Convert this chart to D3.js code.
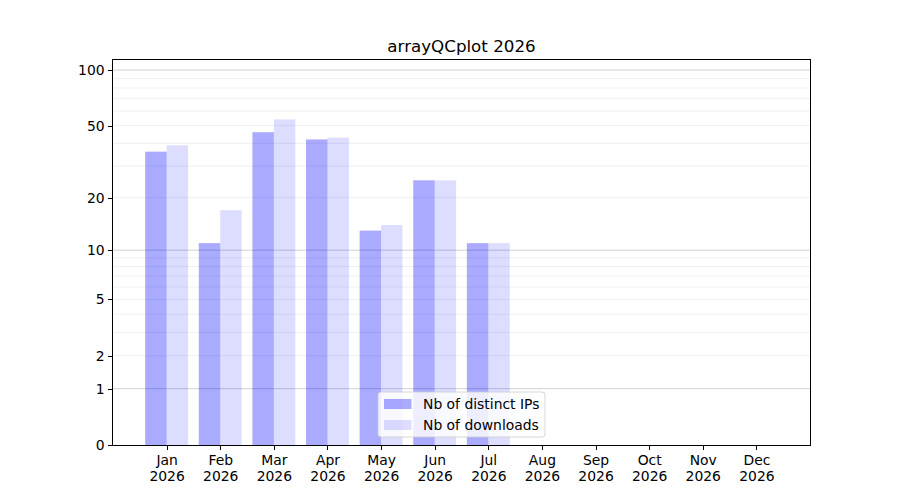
<!DOCTYPE html>
<html>
<head>
<meta charset="utf-8">
<script src="https://cdn.jsdelivr.net/npm/d3@7"></script>
<style>
  body { margin: 0; background: #fff; }
  text { font-family: "DejaVu Sans", sans-serif; }
</style>
</head>
<body>
<script>
let months = ["Jan", "Feb", "Mar", "Apr", "May", "Jun", "Jul", "Aug", "Sep", "Oct", "Nov", "Dec"]
let yearLabel = "2026"
let ips = [36, 11, 46, 42, 13, 25, 11, 0, 0, 0, 0, 0]
let downloads = [39, 17, 54, 43, 14, 25, 11, 0, 0, 0, 0, 0]
let yTicks = [0, 1, 2, 5, 10, 20, 50, 100]
let majorGrid = [1, 10, 100]
let minorGrid = [2, 3, 4, 5, 6, 7, 8, 9, 20, 30, 40, 50, 60, 70, 80, 90]
let seriesNames = ["Nb of distinct IPs", "Nb of downloads"]

let w = 900
let h = 500
let padL = 113, padR = 810, padT = 60, padB = 445
let barW = 0.4

let svg = d3.select("body").append("svg")
  .attr("width", w)
  .attr("height", h)

let xScale = d3.scaleLinear().domain([-1, 12]).range([padL, padR])
let yScale = d3.scaleSymlog().constant(1).domain([0, 113.3]).range([padB, padT])

// grid
svg.append("g").selectAll("line")
  .data(minorGrid)
  .enter()
  .append("line")
  .attr("x1", padL).attr("x2", padR)
  .attr("y1", d => yScale(d)).attr("y2", d => yScale(d))
  .attr("stroke", "#ebebeb")
  .attr("stroke-width", 0.8)

svg.append("g").selectAll("line")
  .data(majorGrid)
  .enter()
  .append("line")
  .attr("x1", padL).attr("x2", padR)
  .attr("y1", d => yScale(d)).attr("y2", d => yScale(d))
  .attr("stroke", "#c4c4c4")
  .attr("stroke-width", 0.8)

// bars
let drawBars = (vals, offset, op) => {
  svg.append("g").selectAll("rect")
    .data(vals)
    .enter()
    .append("rect")
    .attr("x", (d, i) => xScale(i + offset))
    .attr("width", xScale(barW) - xScale(0))
    .attr("y", d => yScale(d))
    .attr("height", d => yScale(0) - yScale(d))
    .attr("fill", "blue")
    .attr("fill-opacity", op)
}
drawBars(ips, -barW, 0.333)
drawBars(downloads, 0, 0.133)

// axes
let xAxis = d3.axisBottom(xScale)
  .tickValues(d3.range(months.length))
  .tickSize(4.9)
  .tickPadding(3)
  .tickFormat("")
let gx = svg.append("g")
  .attr("transform", "translate(0," + padB + ")")
  .call(xAxis)
gx.select(".domain").remove()
gx.selectAll(".tick line").attr("stroke", "black").attr("stroke-width", 1).attr("shape-rendering", "crispEdges")
gx.selectAll(".tick").append("text")
  .attr("fill", "black")
  .attr("font-size", "13.9px")
  .attr("font-family", "DejaVu Sans")
  .attr("text-anchor", "middle")
  .selectAll("tspan")
  .data(i => [months[i], yearLabel])
  .enter()
  .append("tspan")
  .attr("x", 0)
  .attr("y", (d, j) => 20 + j * 16)
  .text(d => d)

let yAxis = d3.axisLeft(yScale)
  .tickValues(yTicks)
  .tickSize(4.9)
  .tickPadding(3.5)
  .tickFormat(d3.format("d"))
let gy = svg.append("g")
  .attr("transform", "translate(" + padL + ",0)")
  .call(yAxis)
gy.select(".domain").remove()
gy.selectAll(".tick line").attr("stroke", "black").attr("stroke-width", 1).attr("shape-rendering", "crispEdges")
gy.selectAll(".tick text")
  .attr("fill", "black")
  .attr("font-size", "13.9px")
  .attr("font-family", "DejaVu Sans")

// frame
svg.append("rect")
  .attr("x", padL - 0.5).attr("y", padT - 0.5)
  .attr("width", padR - padL + 1).attr("height", padB - padT + 1)
  .attr("fill", "none")
  .attr("stroke", "black")
  .attr("stroke-width", 1)
  .attr("shape-rendering", "crispEdges")

// title
svg.append("text")
  .text("arrayQCplot " + yearLabel)
  .attr("x", (padL + padR) / 2)
  .attr("y", 52)
  .attr("text-anchor", "middle")
  .attr("font-size", "16.7px")

// legend
let lg = svg.append("g").attr("transform", "translate(378,392)")
lg.append("rect")
  .attr("width", 167).attr("height", 45)
  .attr("rx", 3)
  .attr("fill", "white")
  .attr("fill-opacity", 0.8)
  .attr("stroke", "#cccccc")
  .attr("stroke-width", 0.8)
seriesNames.forEach((name, i) => {
  lg.append("rect")
    .attr("x", 6).attr("y", 7 + i * 21)
    .attr("width", 27.5).attr("height", 10)
    .attr("fill", "blue")
    .attr("fill-opacity", i === 0 ? 0.333 : 0.133)
  lg.append("text")
    .text(name)
    .attr("x", 45).attr("y", 17 + i * 21)
    .attr("font-size", "13.9px")
    .attr("fill", "black")
})
</script>
</body>
</html>
